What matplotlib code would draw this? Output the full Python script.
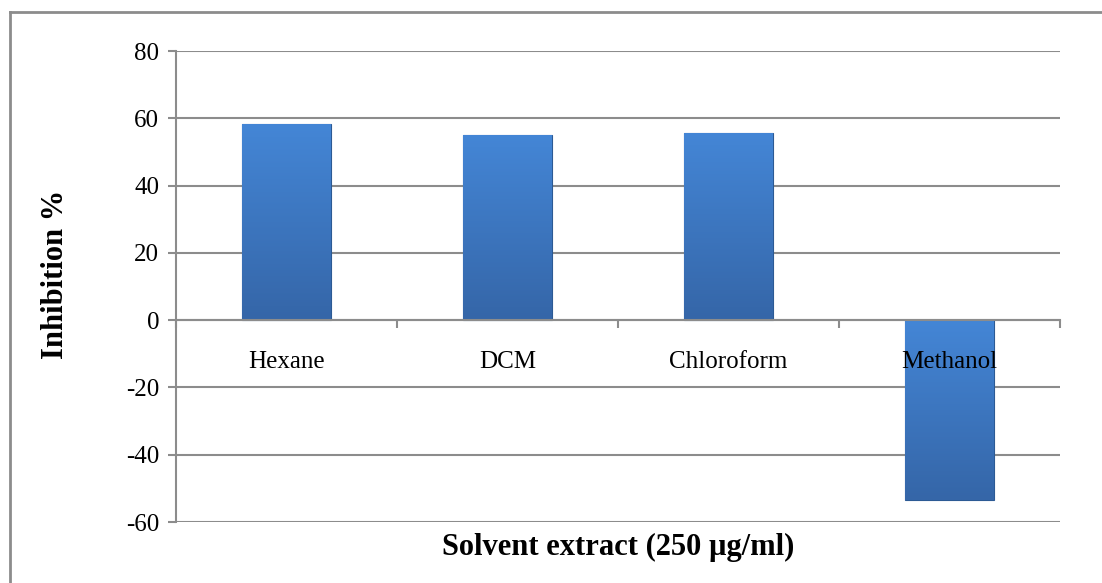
import numpy as np
import matplotlib
matplotlib.use("Agg")
import matplotlib.pyplot as plt
from matplotlib.lines import Line2D
from matplotlib.colors import LinearSegmentedColormap

# data
solvents = ["Hexane", "DCM", "Chloroform", "Methanol"]
inhibition = [58.3, 55.1, 55.6, -53.6]
y_ticks = [-60, -40, -20, 0, 20, 40, 60, 80]

plt.rcParams['font.family'] = ['Liberation Serif', 'DejaVu Serif']

fig = plt.figure(figsize=(11.02, 5.83), dpi=100)
ax = fig.add_axes([0.1597, 0.1046, 0.8022, 0.8079])

x = np.arange(len(solvents))
bars = ax.bar(x, inhibition, width=0.4, color='#3F7CCB', edgecolor='#2C5A94',
              linewidth=0.8, zorder=1)

# vertical gradient inside each bar, roughly like the Excel bevel fill
grad_cmap = LinearSegmentedColormap.from_list('g', ['#3566A8', '#4486D6'])
grad = np.linspace(0, 1, 100).reshape(-1, 1)
for b in bars:
    x0, y0 = b.get_x(), b.get_y()
    w, h = b.get_width(), b.get_height()
    lo, hi = min(y0, y0 + h), max(y0, y0 + h)
    im = ax.imshow(grad, cmap=grad_cmap, aspect='auto', origin='lower',
                   extent=[x0, x0 + w, lo, hi], zorder=1.1)
    im.set_clip_path(b)

ax.set_xlim(-0.5, len(solvents) - 0.5)
ax.set_ylim(-60, 80)
ax.set_yticks(y_ticks)
ax.set_yticklabels([str(v) for v in y_ticks], fontsize=18)
ax.yaxis.grid(True, color='#8C8C8C', linewidth=1.5)
ax.set_axisbelow(True)

# category axis sits on the zero line, labels just under it
ax.spines['bottom'].set_position(('data', 0))
ax.spines['bottom'].set_color('#8C8C8C')
ax.spines['bottom'].set_linewidth(1.5)
ax.spines['left'].set_color('#8C8C8C')
ax.spines['left'].set_linewidth(1.5)
ax.spines['top'].set_visible(False)
ax.spines['right'].set_visible(False)

ax.set_xticks(x)
ax.set_xticklabels(solvents, fontsize=18)
ax.set_xticks(np.arange(-0.5, len(solvents), 1.0), minor=True)
ax.tick_params(axis='x', which='major', length=0, pad=22)
ax.tick_params(axis='x', which='minor', length=6, width=1.5, color='#8C8C8C')
ax.tick_params(axis='y', length=6, width=1.5, color='#8C8C8C', pad=6)
ax.xaxis.set_zorder(3)

ax.set_xlabel('Solvent extract (250 µg/ml)', fontsize=22, fontweight='bold')
ax.xaxis.label.set_va('center')
ax.xaxis.set_label_coords(0.5, -0.053)
ax.set_ylabel('Inhibition %', fontsize=22, fontweight='bold')
ax.yaxis.label.set_va('center')
ax.yaxis.set_label_coords(-0.136, 0.526)

# outer chart frame
W, H = 1102, 583
fig.add_artist(Line2D([10 / W, 10 / W], [0, 1 - 12 / H], color='#8C8C8C', linewidth=2))
fig.add_artist(Line2D([10 / W, 1], [1 - 12 / H, 1 - 12 / H], color='#8C8C8C', linewidth=2))

fig.savefig('out.png', dpi=100)
